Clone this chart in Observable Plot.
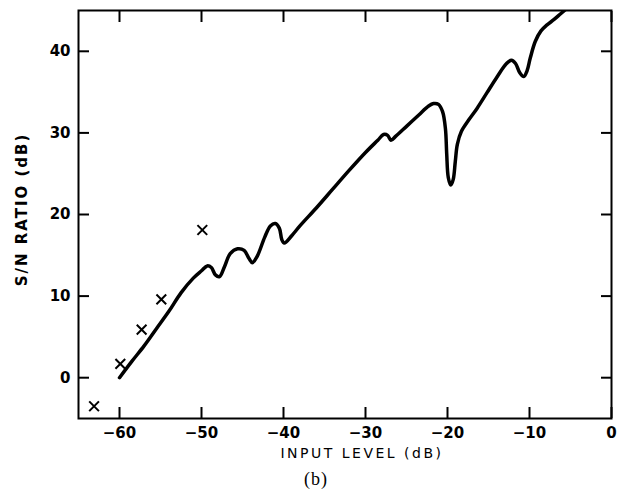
<!DOCTYPE html>
<html>
<head>
<meta charset="utf-8">
<script src="https://cdn.jsdelivr.net/npm/d3@7"></script>
<script src="https://cdn.jsdelivr.net/npm/@observablehq/plot@0.6"></script>
<style>
  html, body { margin: 0; padding: 0; background: #fff; }
</style>
</head>
<body>
<div id="chart"></div>
<script>
// Measured S/N ratio curve (input level dB, S/N dB)
const curveX = [-60.0,-58.5,-57.0,-55.5,-54.0,-52.5,-51.0,-50.0,-49.3,-48.8,-48.3,-47.8,-47.2,-46.5,-45.6,-44.8,-44.2,-43.8,-43.2,-42.3,-41.6,-41.0,-40.5,-40.2,-39.9,-39.0,-38.0,-36.0,-34.0,-32.0,-30.0,-28.5,-27.8,-27.3,-26.9,-26.3,-25.0,-23.5,-22.3,-21.7,-21.1,-20.6,-20.25,-20.1,-19.9,-19.6,-19.3,-19.05,-18.8,-18.3,-17.4,-16.4,-15.2,-14.0,-12.8,-12.2,-11.7,-11.2,-10.7,-10.3,-9.9,-9.3,-8.6,-7.9,-7.0,-6.2,-5.4];
const curveY = [0.0,2.0,3.9,6.0,8.1,10.4,12.2,13.1,13.7,13.5,12.6,12.4,13.6,15.2,15.8,15.6,14.6,14.1,14.9,17.2,18.6,18.9,18.3,16.9,16.5,17.4,18.6,20.8,23.1,25.4,27.6,29.1,29.8,29.7,29.1,29.6,30.8,32.2,33.3,33.6,33.5,32.6,30.5,27.5,24.5,23.6,24.3,26.5,28.6,30.2,31.6,33.0,34.9,36.8,38.5,38.9,38.5,37.4,36.9,37.6,39.2,41.2,42.5,43.2,43.9,44.6,45.3];

// Individual measured points (crosses)
const crossX = [-63.1, -59.9, -57.3, -54.9, -49.9];
const crossY = [-3.5, 1.7, 5.9, 9.6, 18.1];

// Axis ticks and labels
const xTicks = [-60, -50, -40, -30, -20, -10, 0];
const yTicks = [0, 10, 20, 30, 40];
const xLabel = "INPUT LEVEL (dB)";
const yLabel = "S/N RATIO (dB)";
const caption = "(b)";

const curve = curveX.map((x, i) => ({x, y: curveY[i]}));
const crosses = crossX.map((x, i) => ({x, y: crossY[i]}));

const chart = Plot.plot({
  width: 617,
  height: 491,
  marginTop: 10,
  marginBottom: 73,
  marginLeft: 78,
  marginRight: 6,
  x: {domain: [-65, 0]},
  y: {domain: [-5, 45]},
  style: {fontFamily: "DejaVu Sans", fontSize: "15px", color: "#000", background: "#fff"},
  marks: [
    Plot.frame({strokeWidth: 2, stroke: "#000"}),
    Plot.axisX(xTicks, {anchor: "bottom", tickSize: -11, tickPadding: 20, fontWeight: "bold", fontSize: 15, strokeWidth: 2, label: null}),
    Plot.axisX(xTicks, {anchor: "top", tickSize: -11, tickFormat: () => "", strokeWidth: 2, label: null}),
    Plot.axisY(yTicks, {anchor: "left", tickSize: -11, tickPadding: 19, fontWeight: "bold", fontSize: 15, strokeWidth: 2, label: null}),
    Plot.axisY(yTicks, {anchor: "right", tickSize: -11, tickFormat: () => "", strokeWidth: 2, label: null}),
    Plot.line(curve, {x: "x", y: "y", curve: "catmull-rom", stroke: "#000", strokeWidth: 3.5, clip: true}),
    Plot.dot(crosses, {x: "x", y: "y", symbol: "times", r: 4.5, stroke: "#000", strokeWidth: 2}),
    Plot.text([xLabel], {text: d => d, frameAnchor: "bottom", textAnchor: "middle", lineAnchor: "middle", dx: 17, dy: 35, fontSize: 14, fontWeight: 500}),
    Plot.text([yLabel], {text: d => d, frameAnchor: "left", textAnchor: "middle", lineAnchor: "middle", rotate: -90, dx: -56, dy: -5, fontSize: 15, fontWeight: "bold"}),
    Plot.text([caption], {text: d => d, frameAnchor: "bottom", textAnchor: "middle", lineAnchor: "middle", dx: -29, dy: 61, fontSize: 18, fontFamily: "Liberation Serif"})
  ]
});
d3.select(chart).selectAll("text").each(function() {
  const t = this.textContent;
  if (t === xLabel) this.style.letterSpacing = "2.5px";
  else if (t === yLabel) this.style.letterSpacing = "2px";
  else if (t === caption) this.style.letterSpacing = "1px";
});
document.getElementById("chart").appendChild(chart);
</script>
</body>
</html>
